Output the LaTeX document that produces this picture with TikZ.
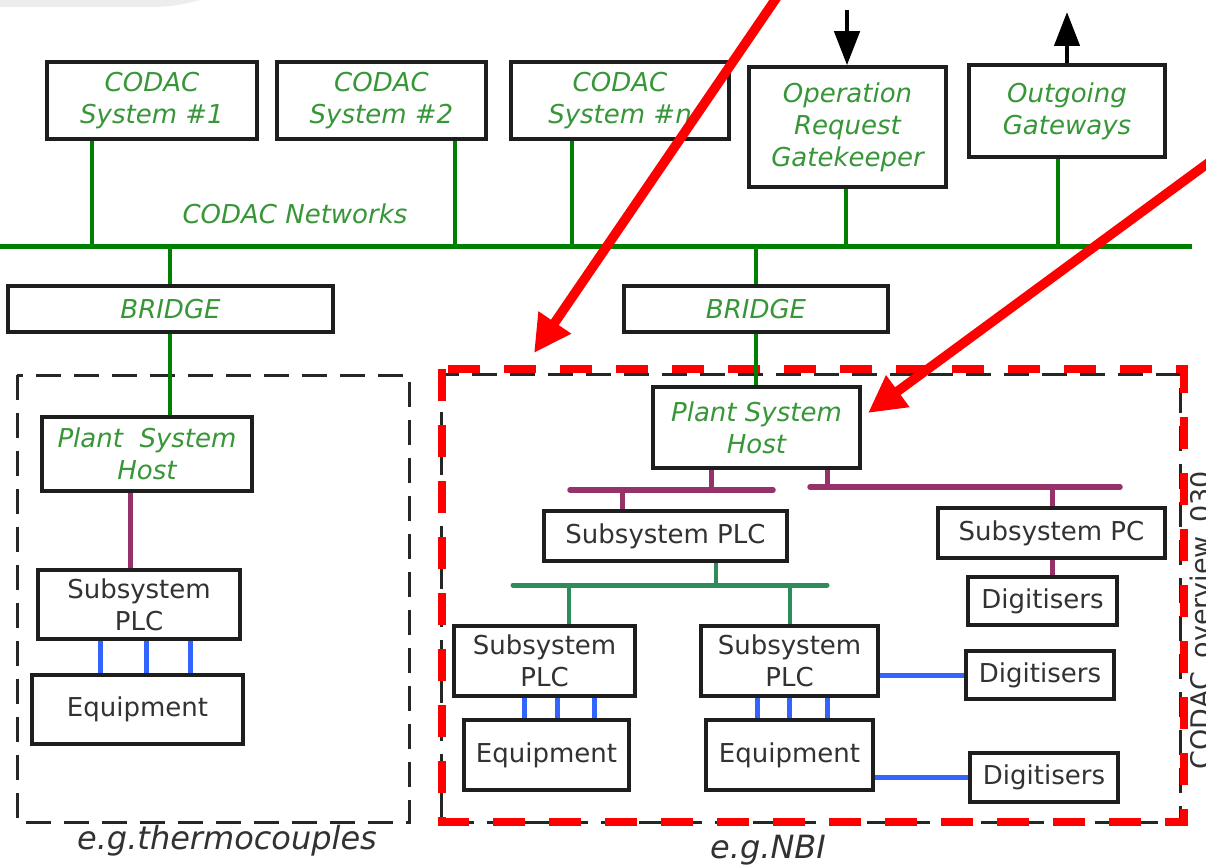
\documentclass[tikz,border=0pt]{standalone}
\usepackage{fontspec}
\setmainfont{DejaVu Sans}
\usetikzlibrary{arrows.meta}

\definecolor{netgreen}{RGB}{0,128,0}
\definecolor{txtgreen}{RGB}{55,150,55}
\definecolor{plum}{RGB}{150,50,105}
\definecolor{seagreen}{RGB}{45,140,90}
\definecolor{linkblue}{RGB}{50,100,255}
\definecolor{boxline}{RGB}{30,30,30}
\definecolor{txtgray}{RGB}{50,50,50}
\definecolor{hilite}{RGB}{255,0,0}

\tikzset{
  box/.style={draw=boxline, line width=3.5pt, fill=white, inner sep=0pt,
    align=center, text=txtgray, font=\fontsize{26}{32}\selectfont},
  codac/.style={box, text=txtgreen, font=\fontsize{26}{32}\selectfont\itshape},
  bus/.style={draw=netgreen, line width=5pt},
  drop/.style={draw=netgreen, line width=4.5pt},
  hostlink/.style={draw=plum, line width=5.5pt, line cap=round},
  hostdrop/.style={draw=plum, line width=5pt},
  plclink/.style={draw=seagreen, line width=5pt, line cap=round},
  plcdrop/.style={draw=seagreen, line width=4.5pt},
  iolink/.style={draw=linkblue, line width=5pt},
  inout/.style={draw=black, line width=4.5pt, -{Triangle[length=34pt,width=25pt]}},
  pointer/.style={draw=hilite, line width=9.5pt, -{Triangle[length=37pt,width=37pt]}},
  caption/.style={text=txtgray, font=\fontsize{32}{38}\selectfont\itshape, inner sep=0pt},
}

\begin{document}
\begin{tikzpicture}[x=1pt,y=-1pt]
\useasboundingbox (0,0) rectangle (1206,866);
\clip (0,0) rectangle (1206,866);
\fill[white] (0,0) rectangle (1206,866);

% strip of the slide header
\fill[gray!14] (0,0) -- (200,0) .. controls (185,4) and (172,7) .. (150,7) -- (0,7) -- cycle;

% ---------- CODAC level ----------
\node[codac, minimum width=210pt, minimum height=77pt] (sys1) at (152,100.5) {CODAC\\System \#1};
\node[codac, minimum width=209pt, minimum height=77pt] (sys2) at (381.5,100.5) {CODAC\\System \#2};
\node[codac, minimum width=218pt, minimum height=77pt] (sysn) at (620,100.5) {CODAC\\System \#n};
\node[codac, minimum width=197pt, minimum height=120pt] (gate) at (847.5,127) {Operation\\Request\\Gatekeeper};
\node[codac, minimum width=196pt, minimum height=92pt] (outg) at (1067,111) {Outgoing\\Gateways};

\coordinate (inG) at (847,10);
\coordinate (outG) at (1067,12);
\draw[inout] (inG) -- (gate.north -| inG);
\draw[inout] (outg.north) -- (outG);

% CODAC network bus and its taps
\coordinate (busL) at (0,247);
\coordinate (busR) at (1192,247);
\draw[bus] (busL) -- (busR);
\node[text=txtgreen, font=\fontsize{26}{32}\selectfont\itshape, inner sep=0pt] (netlbl) at (295,214) {CODAC Networks};

\coordinate (t1) at (92,247);
\coordinate (t2) at (455,247);
\coordinate (t3) at (572,247);
\coordinate (t4) at (846,247);
\coordinate (t5) at (1058,247);
\coordinate (tL) at (170,247);
\coordinate (tR) at (756,247);
\draw[drop] (t1) -- (t1 |- sys1.south);
\draw[drop] (t2) -- (t2 |- sys2.south);
\draw[drop] (t3) -- (t3 |- sysn.south);
\draw[drop] (t4) -- (t4 |- gate.south);
\draw[drop] (t5) -- (t5 |- outg.south);

% ---------- bridges ----------
\node[codac, minimum width=325pt, minimum height=46pt] (brL) at (170.5,309) {BRIDGE};
\node[codac, minimum width=264pt, minimum height=46pt] (brR) at (756,309) {BRIDGE};
\draw[drop] (tL) -- (tL |- brL.north);
\draw[drop] (tR) -- (tR |- brR.north);

% ---------- plant frames ----------
\draw[black!85, line width=3pt, dash pattern=on 25pt off 13pt] (17,375) rectangle (409,822);
\draw[black!85, line width=3pt, dash pattern=on 25pt off 13pt] (441,374) rectangle (1180,822);
\draw[hilite, line width=8.5pt, dash pattern=on 32pt off 24pt] (442,369) rectangle (1184,822);

% ---------- thermocouple plant ----------
\node[codac, minimum width=210pt, minimum height=74pt] (pshL) at (147,454) {Plant\ \ System\\Host};
\node[box, minimum width=202pt, minimum height=69pt] (plcL) at (139,604.5) {Subsystem\\PLC};
\node[box, minimum width=211pt, minimum height=69pt] (eqL) at (137.5,709.5) {Equipment};
\draw[drop] (brL.south -| tL) -- (pshL.north -| tL);

\coordinate (hL) at (130,0);
\draw[hostdrop] (pshL.south -| hL) -- (plcL.north -| hL);
\foreach \x in {100,146,190}
  \draw[iolink] (plcL.south -| \x,0) -- (eqL.north -| \x,0);

% ---------- NBI plant ----------
\node[codac, minimum width=207pt, minimum height=81pt] (pshR) at (756.5,427.5) {Plant System\\Host};
\draw[drop] (brR.south -| tR) -- (pshR.north -| tR);

\node[box, minimum width=243pt, minimum height=50pt] (plcM) at (665.5,536) {Subsystem PLC};
\node[box, minimum width=227pt, minimum height=50pt] (pc) at (1051.5,533) {Subsystem PC};
\node[box, minimum width=181pt, minimum height=70pt] (plcA) at (544.5,661) {Subsystem\\PLC};
\node[box, minimum width=177pt, minimum height=70pt] (plcB) at (789.5,661) {Subsystem\\PLC};
\node[box, minimum width=165pt, minimum height=70pt] (eqA) at (546.5,755) {Equipment};
\node[box, minimum width=167pt, minimum height=70pt] (eqB) at (789.5,755) {Equipment};
\node[box, minimum width=149pt, minimum height=48pt] (dig1) at (1042.5,601) {Digitisers};
\node[box, minimum width=148pt, minimum height=48pt] (dig2) at (1040,675) {Digitisers};
\node[box, minimum width=148pt, minimum height=49pt] (dig3) at (1044,777.5) {Digitisers};

% host buses
\coordinate (hb1L) at (570,490);
\coordinate (hb1R) at (773,490);
\coordinate (hb2L) at (810,487);
\coordinate (hb2R) at (1120,487);
\draw[hostlink] (hb1L) -- (hb1R);
\draw[hostlink] (hb2L) -- (hb2R);
\coordinate (h1) at (711,490);
\coordinate (h2) at (622,490);
\coordinate (h3) at (827,487);
\coordinate (h4) at (1052,487);
\draw[hostdrop] (h1) -- (h1 |- pshR.south);
\draw[hostdrop] (h2) -- (h2 |- plcM.north);
\draw[hostdrop] (h3) -- (h3 |- pshR.south);
\draw[hostdrop] (h4) -- (h4 |- pc.north);
\draw[hostdrop] (pc.south -| h4) -- (dig1.north -| h4);

% PLC bus
\coordinate (pbL) at (513,585);
\coordinate (pbR) at (827,585);
\draw[plclink] (pbL) -- (pbR);
\coordinate (p1) at (716,585);
\coordinate (p2) at (569,585);
\coordinate (p3) at (790,585);
\draw[plcdrop] (p1) -- (p1 |- plcM.south);
\draw[plcdrop] (p2) -- (p2 |- plcA.north);
\draw[plcdrop] (p3) -- (p3 |- plcB.north);

% field links
\foreach \x in {524,557,594}
  \draw[iolink] (plcA.south -| \x,0) -- (eqA.north -| \x,0);
\foreach \x in {757,789,827}
  \draw[iolink] (plcB.south -| \x,0) -- (eqB.north -| \x,0);
\draw[iolink] (plcB.east |- dig2.west) -- (dig2.west);
\draw[iolink] (eqB.east |- dig3.west) -- (dig3.west);

% ---------- captions ----------
\node[caption] (capL) at (227,841) {e.g.thermocouples};
\node[caption] (capR) at (768,850) {e.g.NBI};
\node[text=txtgray, font=\fontsize{27}{32}\selectfont, inner sep=0pt, rotate=90, anchor=north] (ref) at (1190,620) {CODAC\_overview\_030};

% ---------- pointers ----------
\coordinate (r1s) at (790,-22);
\coordinate (r1e) at (534,353);
\coordinate (r2s) at (1230,147);
\coordinate (r2e) at (868,413);
\draw[pointer] (r1s) -- (r1e);
\draw[pointer] (r2s) -- (r2e);
\end{tikzpicture}
\end{document}
